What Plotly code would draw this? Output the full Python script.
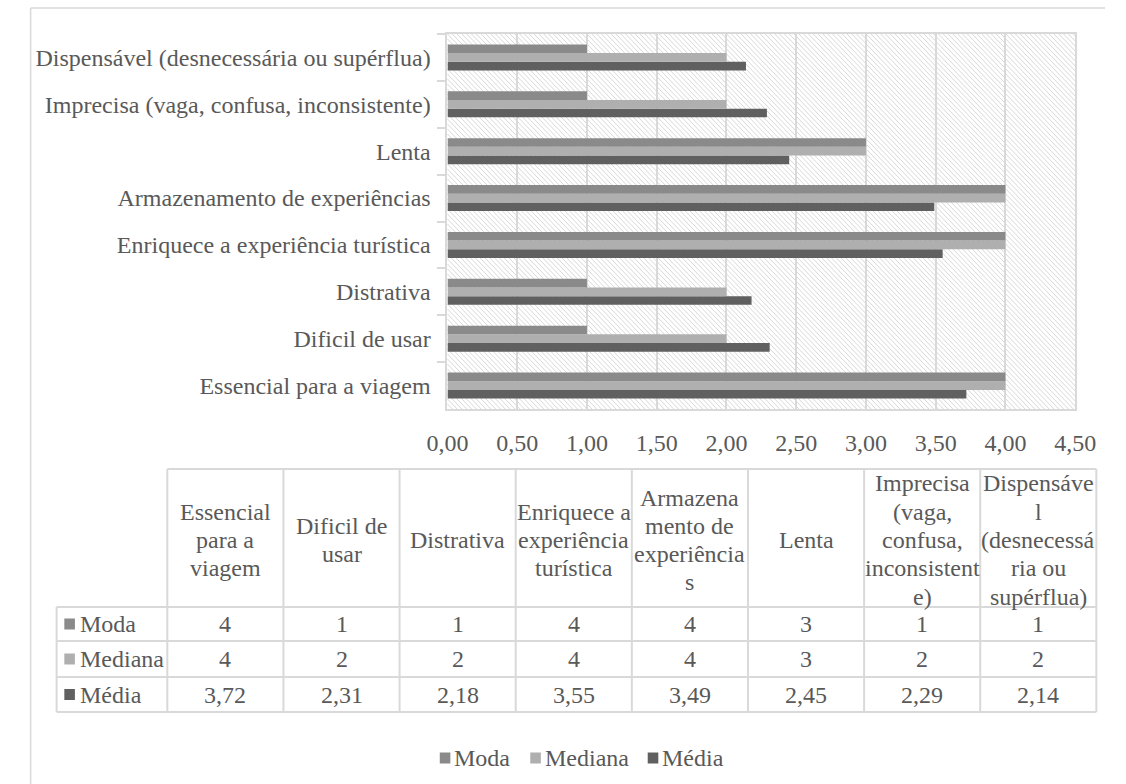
import plotly.graph_objects as go

W, H = 1126, 784

# ---- data -------------------------------------------------------------
categories = [
    "Essencial para a viagem",
    "Dificil de usar",
    "Distrativa",
    "Enriquece a experiência turística",
    "Armazenamento de experiências",
    "Lenta",
    "Imprecisa (vaga, confusa, inconsistente)",
    "Dispensável (desnecessária ou supérflua)",
]
# column headings of the data table (wrapped as in the cells)
header_lines = [
    ["Essencial", "para a", "viagem"],
    ["Dificil de", "usar"],
    ["Distrativa"],
    ["Enriquece a", "experiência", "turística"],
    ["Armazena", "mento de", "experiência", "s"],
    ["Lenta"],
    ["Imprecisa", "(vaga,", "confusa,", "inconsistent", "e)"],
    ["Dispensáve", "l", "(desnecessá", "ria ou", "supérflua)"],
]
moda = [4, 1, 1, 4, 4, 3, 1, 1]
mediana = [4, 2, 2, 4, 4, 3, 2, 2]
media = [3.72, 2.31, 2.18, 3.55, 3.49, 2.45, 2.29, 2.14]
series_names = ["Moda", "Mediana", "Média"]
x_ticks = [0, 0.5, 1, 1.5, 2, 2.5, 3, 3.5, 4, 4.5]

# ---- styling ----------------------------------------------------------
FONT = "Times New Roman, Liberation Serif, DejaVu Serif, serif"
TXT = "#595959"
GRID = "#d9d9d9"
FS = 24
series_colors = {"Moda": "#8a8a8a", "Mediana": "#afafaf", "Média": "#606060"}
series_values = {"Moda": moda, "Mediana": mediana, "Média": media}

# plot area in pixels
L, T, R, B = 443, 34, 1095, 409


def px(x):
    return x / W


def py(y):
    return 1 - y / H


fig = go.Figure()

# grouped bars: last trace drawn topmost within each group
for name in ["Média", "Mediana", "Moda"]:
    fig.add_trace(go.Bar(
        y=categories, x=series_values[name], orientation="h", name=name,
        marker=dict(color=series_colors[name], line=dict(width=0)),
        showlegend=False, hoverinfo="x+name",
    ))

shapes = []
annotations = []

# outer chart frame (left and top edges visible)
shapes.append(dict(type="line", xref="paper", yref="paper",
                   x0=px(10), y0=py(8), x1=1, y1=py(8),
                   line=dict(color=GRID, width=1.5), layer="below"))
shapes.append(dict(type="line", xref="paper", yref="paper",
                   x0=px(10), y0=py(8), x1=px(10), y1=0,
                   line=dict(color=GRID, width=1.5), layer="below"))


# diagonal hatching of the plot area
def hatch_path(l, t, r, b, step):
    parts = []
    u = l - b
    while u <= r - t:
        y1 = max(t, l - u)
        y2 = min(b, r - u)
        if y2 > y1:
            parts.append(f"M{px(u + y1):.5f},{py(y1):.5f}L{px(u + y2):.5f},{py(y2):.5f}")
        u += step
    return "".join(parts)


shapes.append(dict(type="path", xref="paper", yref="paper",
                   path=hatch_path(L, T, R, B, 5),
                   line=dict(color="#d8d8d8", width=1), layer="below"))

# ---- data table ---------------------------------------------------------
tab_left = 37
col_x0 = 152
col_w = (1117 - 152) / len(categories)
col_edges = [col_x0 + i * col_w for i in range(len(categories) + 1)]
row_edges = [469, 607, 641, 677, 712]


def hline(x0, x1, y):
    shapes.append(dict(type="line", xref="paper", yref="paper",
                       x0=px(x0), x1=px(x1), y0=py(y), y1=py(y),
                       line=dict(color=GRID, width=2)))


def vline(x, y0, y1):
    shapes.append(dict(type="line", xref="paper", yref="paper",
                       x0=px(x), x1=px(x), y0=py(y0), y1=py(y1),
                       line=dict(color=GRID, width=2)))


hline(col_edges[0], col_edges[-1], row_edges[0])
for y in row_edges[1:]:
    hline(tab_left, col_edges[-1], y)
for x in col_edges:
    vline(x, row_edges[0], row_edges[-1])
vline(tab_left, row_edges[1], row_edges[-1])


def text(x, y, s, anchor="center"):
    annotations.append(dict(xref="paper", yref="paper", x=px(x), y=py(y),
                            text=s, showarrow=False, xanchor=anchor,
                            yanchor="middle",
                            font=dict(family=FONT, size=FS, color=TXT)))


def square(x, y, color, size=11):
    shapes.append(dict(type="rect", xref="paper", yref="paper",
                       x0=px(x), x1=px(x + size), y0=py(y - size / 2),
                       y1=py(y + size / 2), fillcolor=color,
                       line=dict(width=0)))


# header cells
head_mid = 540
line_gap = 28.3
for i, lines in enumerate(header_lines):
    cx = (col_edges[i] + col_edges[i + 1]) / 2
    n = len(lines)
    for k, s in enumerate(lines):
        text(cx, head_mid + (k - (n - 1) / 2) * line_gap, s)


def fmt(v):
    if float(v).is_integer():
        return str(int(v))
    return f"{v:.2f}".replace(".", ",")


for r, name in enumerate(series_names):
    cy = (row_edges[r + 1] + row_edges[r + 2]) / 2
    square(45, cy, series_colors[name])
    text(59, cy, name, anchor="left")
    for i, v in enumerate(series_values[name]):
        cx = (col_edges[i] + col_edges[i + 1]) / 2
        text(cx, cy, fmt(v))

# ---- legend ------------------------------------------------------------
leg_y = 758
for name, sx in zip(series_names, [435, 529, 651]):
    square(sx, leg_y, series_colors[name])
    text(sx + 13, leg_y, name, anchor="left")

fig.update_layout(
    width=W, height=H, autosize=False,
    margin=dict(l=0, r=0, t=0, b=0, pad=0),
    paper_bgcolor="white", plot_bgcolor="rgba(0,0,0,0)",
    separators=",.",
    barmode="group", bargap=0.445, bargroupgap=0,
    font=dict(family=FONT, size=FS, color=TXT),
    showlegend=False,
    shapes=shapes, annotations=annotations,
    xaxis=dict(domain=[px(L), px(R)], range=[0, 4.5], tickvals=x_ticks,
               tickformat=".2f", showgrid=True, gridcolor=GRID, gridwidth=2,
               showline=True, linecolor=GRID, linewidth=2, mirror=True,
               zeroline=False, ticks="", ticklabelstandoff=11,
               tickfont=dict(family=FONT, size=FS, color=TXT)),
    yaxis=dict(domain=[py(B), py(T)], type="category",
               categoryorder="array", categoryarray=categories,
               range=[-0.5, len(categories) - 0.5],
               showgrid=False, showline=True, linecolor=GRID, linewidth=2,
               mirror=True, ticks="outside", tickson="boundaries", ticklen=8,
               tickcolor=GRID, tickwidth=2, ticklabelstandoff=10,
               tickfont=dict(family=FONT, size=FS, color=TXT)),
)

fig.write_html("out.html")
